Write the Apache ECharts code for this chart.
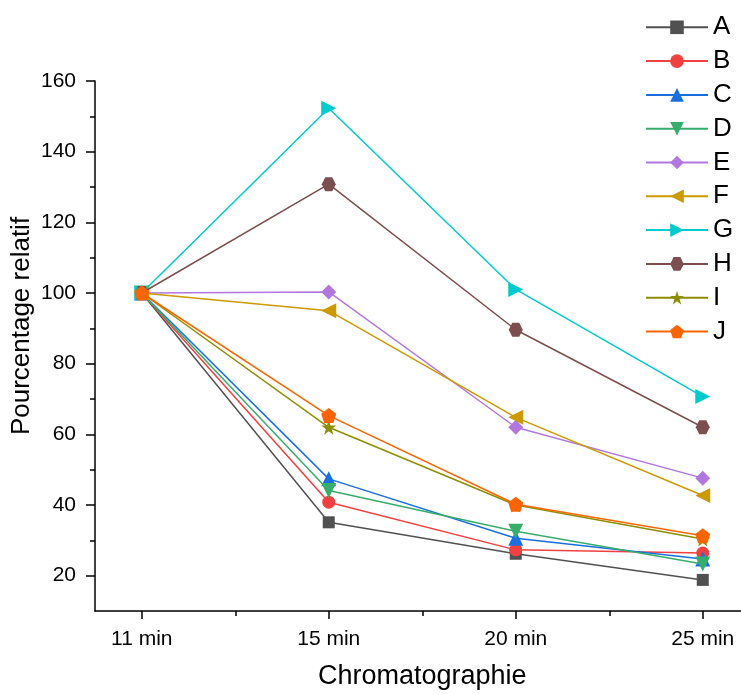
<!DOCTYPE html>
<html>
<head>
<meta charset="utf-8">
<script src="https://cdn.jsdelivr.net/npm/echarts@6/dist/echarts.min.js"></script>
<style>
html,body{margin:0;padding:0;background:#fff;}
#chart{width:741px;height:694px;}
</style>
</head>
<body>
<div id="chart"></div>
<script>
// ---- data ----
var categories = ['11 min', '15 min', '20 min', '25 min'];
var seriesNames = ['A', 'B', 'C', 'D', 'E', 'F', 'G', 'H', 'I', 'J'];
var A = [100, 35.1, 26.2, 18.8];
var B = [100, 40.8, 27.3, 26.4];
var C = [100, 47.4, 30.6, 24.7];
var D = [100, 44.1, 32.6, 23.3];
var E = [100, 100.3, 62.0, 47.6];
var F = [100, 95.0, 64.8, 42.7];
var G = [100, 152.3, 101.0, 70.7];
var H = [100, 130.8, 89.6, 62.0];
var I = [100, 62.0, 40.0, 30.4];
var J = [100, 65.3, 40.2, 31.3];
var yMajorTicks = [20, 40, 60, 80, 100, 120, 140, 160];
var yMinorTicks = [30, 50, 70, 90, 110, 130, 150];
var xMinorTicks = [1.5, 2.5, 3.5];

// ---- styles ----
var colors = ['#515151', '#F14040', '#1A6FDF', '#37AD6B', '#B177DE', '#CC9900', '#00CBCC', '#7D4E4E', '#8E8E00', '#FB6501'];
var symbols = [
  'rect',
  'circle',
  'path://M5,0 L10,10 L0,10 Z',
  'path://M0,0 L10,0 L5,10 Z',
  'diamond',
  'path://M10,0 L10,10 L0,5 Z',
  'path://M0,0 L10,5 L0,10 Z',
  'path://M0,5 L2.5,0.67 L7.5,0.67 L10,5 L7.5,9.33 L2.5,9.33 Z',
  'path://M5,0 L6.18,3.82 L10,3.82 L6.91,6.18 L8.09,10 L5,7.64 L1.91,10 L3.09,6.18 L0,3.82 L3.82,3.82 Z',
  'path://M5,0 L10,3.82 L8.09,10 L1.91,10 L0,3.82 Z'
];
var sizes = [12, 13, 15, 15, 15, 15, 15, 14, 15, 15];
var allData = [A, B, C, D, E, F, G, H, I, J];
var FONT = '"Liberation Sans", Arial, sans-serif';

var series = seriesNames.map(function (name, k) {
  return {
    name: name,
    type: 'line',
    xAxisIndex: 0,
    yAxisIndex: 0,
    data: allData[k].map(function (v, i) { return [i + 1, v]; }),
    symbol: symbols[k],
    symbolSize: sizes[k],
    showAllSymbol: true,
    lineStyle: { color: colors[k], width: 1.5 },
    itemStyle: { color: colors[k], opacity: 1 },
    emphasis: { disabled: true },
    z: 2 + k * 0.01
  };
});

var chart = echarts.init(document.getElementById('chart'), null, { renderer: 'canvas' });
chart.setOption({
  animation: false,
  backgroundColor: '#ffffff',
  color: colors,
  textStyle: { fontFamily: FONT },
  grid: { left: 95, top: 81, width: 654.5, bottom: 83, containLabel: false, outerBoundsMode: 'none' },
  legend: {
    orient: 'vertical',
    left: 640,
    top: 9.3,
    itemWidth: 62,
    itemHeight: 17,
    itemGap: 7.8,
    data: seriesNames,
    textStyle: { fontFamily: FONT, fontSize: 26, color: '#000', lineHeight: 26 },
    selectedMode: false
  },
  xAxis: [{
    type: 'value',
    min: 0.75,
    max: 4.25,
    position: 'bottom',
    name: 'Chromatographie',
    nameLocation: 'middle',
    nameGap: 52,
    nameTextStyle: { fontFamily: FONT, fontSize: 27, color: '#000' },
    axisLine: { show: true, onZero: false, lineStyle: { color: '#000', width: 1.5 } },
    axisTick: { show: true, inside: false, length: 8, customValues: [1, 2, 3, 4], lineStyle: { color: '#000', width: 1.5 } },
    axisLabel: {
      show: true, margin: 18, customValues: [1, 2, 3, 4],
      fontFamily: FONT, fontSize: 21, color: '#000',
      formatter: function (v) { return categories[Math.round(v) - 1] || ''; }
    },
    splitLine: { show: false }
  }, {
    type: 'value',
    min: 0.75,
    max: 4.25,
    position: 'bottom',
    axisLine: { show: false, onZero: false },
    axisTick: { show: true, inside: false, length: 5, customValues: xMinorTicks, lineStyle: { color: '#000', width: 1.5 } },
    axisLabel: { show: false },
    splitLine: { show: false }
  }],
  yAxis: [{
    type: 'value',
    min: 10,
    max: 160,
    position: 'left',
    axisLine: { show: true, onZero: false, lineStyle: { color: '#000', width: 1.5 } },
    axisTick: { show: true, inside: false, length: 9, customValues: yMajorTicks, lineStyle: { color: '#000', width: 1.5 } },
    axisLabel: { show: true, margin: 19, customValues: yMajorTicks, fontFamily: FONT, fontSize: 21, color: '#000' },
    splitLine: { show: false }
  }, {
    type: 'value',
    min: 10,
    max: 160,
    position: 'left',
    axisLine: { show: false, onZero: false },
    axisTick: { show: true, inside: false, length: 5, customValues: yMinorTicks, lineStyle: { color: '#000', width: 1.5 } },
    axisLabel: { show: false },
    splitLine: { show: false }
  }],
  graphic: [{
    type: 'text',
    x: 22,
    y: 326,
    rotation: Math.PI / 2,
    style: {
      text: 'Pourcentage relatif',
      x: 0, y: 0,
      align: 'center',
      verticalAlign: 'middle',
      font: '26px ' + FONT,
      fill: '#000'
    }
  }],
  series: series
});
</script>
</body>
</html>
